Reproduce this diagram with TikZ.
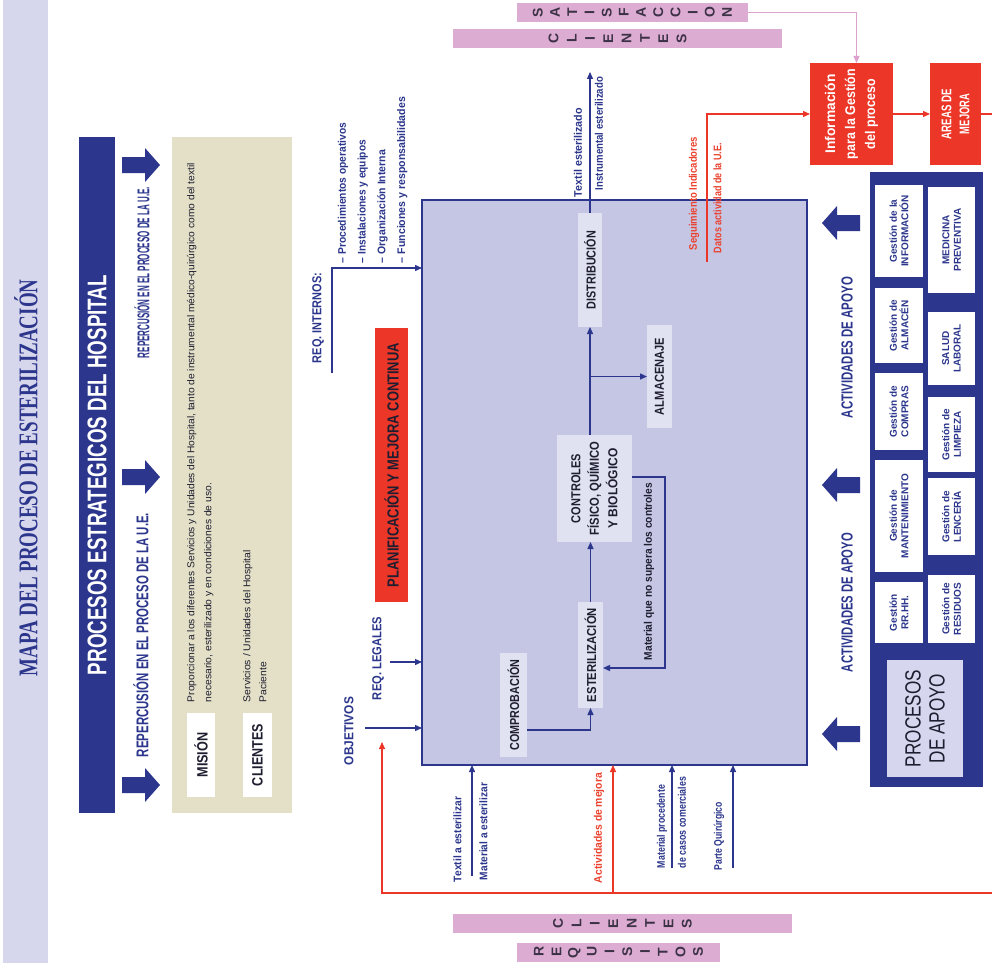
\documentclass[tikz,border=0pt]{standalone}
\usepackage{fontspec}
\usepackage{graphicx}
\setmainfont{Liberation Sans}
\newfontfamily\cnd{Liberation Sans}[FakeStretch=0.78]
\newfontfamily\serf{Liberation Serif}
\usetikzlibrary{arrows.meta}
\definecolor{navy}{RGB}{43,54,140}
\definecolor{bandc}{RGB}{214,214,236}
\definecolor{lav}{RGB}{196,198,228}
\definecolor{boxw}{RGB}{224,225,241}
\definecolor{beige}{RGB}{227,224,199}
\definecolor{redc}{RGB}{236,54,40}
\definecolor{redt}{RGB}{235,65,45}
\definecolor{pinkc}{RGB}{221,172,210}
\definecolor{pinkline}{RGB}{222,160,205}
\definecolor{darktxt}{RGB}{30,30,48}
\definecolor{lettc}{RGB}{60,50,70}
\definecolor{apoyofill}{RGB}{214,215,238}
\newcommand\fsz[1]{\fontsize{#1}{#1}\selectfont}
\newcommand\fitw[2]{\resizebox{#1pt}{\height}{#2}}
\newlength\vlw
\newcommand\vl[1]{\makebox[\vlw]{\rotatebox[origin=c]{90}{\bfseries\fontsize{14}{14}\selectfont #1}}}
\tikzset{
 vtxt/.style={rotate=90, inner sep=0pt, outer sep=0pt},
 navylbl/.style={vtxt, text=navy, font={\cnd\bfseries\fsz{12}}},
 redlbl/.style={vtxt, text=redt, font={\cnd\bfseries\fsz{12}}},
 procbox/.style={vtxt, fill=boxw, text=darktxt, font={\cnd\bfseries\fsz{13}}},
 supbox/.style={vtxt, fill=white, text=navy, align=center, font={\bfseries\fontsize{10}{11.5}\selectfont}},
 plainrect/.style={inner sep=0pt, outer sep=0pt},
 conn/.style={draw=navy, line width=1.3pt, -{Triangle[length=7pt,width=6pt]}},
 rconn/.style={draw=redc, line width=1.1pt, -{Triangle[length=7pt,width=6pt]}},
 pconn/.style={draw=pinkline, line width=1pt, -{Triangle[length=7pt,width=6pt]}},
 pinkbar/.style={fill=pinkc, inner sep=0pt, outer sep=0pt, text=lettc},
 barrowR/.pic={\fill[navy] (0,-8) -- (23,-8) -- (23,-17) -- (38,0) -- (23,17) -- (23,8) -- (0,8) -- cycle;},
 barrowL/.pic={\fill[navy] (0,-8) -- (-23,-8) -- (-23,-17) -- (-38,0) -- (-23,17) -- (-23,8) -- (0,8) -- cycle;}
}
\begin{document}
\begin{tikzpicture}[x=1pt,y=-1pt]
\useasboundingbox (0,0) rectangle (992,963);
\fill[white] (0,0) rectangle (992,963);

% title band
\node[plainrect, fill=bandc, minimum width=45pt, minimum height=963pt] (band) at (25.5,481.5) {};
\node[vtxt, text=navy, font={\serf\bfseries\fsz{27}}] (title) at (26,478) {\fitw{397}{MAPA DEL PROCESO DE ESTERILIZACIÓN}};

% strategic header
\node[vtxt, fill=navy, minimum width=676pt, minimum height=36pt, text=white, font={\cnd\bfseries\fsz{27}}] (hdr) at (97,475) {\fitw{400}{PROCESOS ESTRATEGICOS DEL HOSPITAL}};
\node[navylbl, font={\cnd\bfseries\fsz{17}}] (rep1) at (142,272.5) {\fitw{171}{REPERCUSIÓN EN EL PROCESO DE LA U.E.}};
\node[navylbl, font={\cnd\bfseries\fsz{17}}] (rep2) at (141,635) {\fitw{244}{REPERCUSIÓN EN EL PROCESO DE LA U.E.}};
\pic at (122,165) {barrowR};
\pic at (122,477) {barrowR};
\pic at (122,785) {barrowR};

% mission / clients
\node[plainrect, fill=beige, minimum width=120pt, minimum height=676pt] (beigebox) at (232,475) {};
\node[vtxt, fill=white, minimum width=84pt, minimum height=28pt, text=darktxt, font={\cnd\bfseries\fsz{15}}] (mision) at (201,755) {\fitw{45}{MISIÓN}};
\node[vtxt, fill=white, minimum width=84pt, minimum height=29pt, text=darktxt, font={\cnd\bfseries\fsz{15}}] (clientes) at (257.5,755) {\fitw{62}{CLIENTES}};
\node[vtxt, anchor=north west, align=left, text=darktxt, font={\cnd\fontsize{10}{17}\selectfont}] (misiontxt) at (187,702) {\fitw{539}{Proporcionar a los diferentes Servicios y Unidades del Hospital, tanto de instrumental médico-quirúrgico como del textil}\\\fitw{219}{necesario, esterilizado y en condiciones de uso.}};
\node[vtxt, anchor=north west, align=left, text=darktxt, font={\cnd\fontsize{10}{16}\selectfont}] (clientestxt) at (243,702) {\fitw{152}{Servicios / Unidades del Hospital}\\\fitw{40}{Paciente}};

% big process box
\node[plainrect, fill=lav, draw=navy, line width=1.5pt, minimum width=385pt, minimum height=565pt] (bigbox) at (614.5,482.5) {};

% requirements
\node[navylbl, font={\cnd\bfseries\fsz{13}}] (reqint) at (318,318) {\fitw{90}{REQ. INTERNOS:}};
\node[vtxt, anchor=north west, align=left, text=navy, font={\cnd\bfseries\fontsize{11}{19.7}\selectfont}] (reqlist) at (338,263) {\fitw{140}{– Procedimientos operativos}\\\fitw{123}{– Instalaciones y equipos}\\\fitw{113}{– Organización Interna}\\\fitw{166}{– Funciones y responsabilidades}};
\coordinate (reqintS) at (332,373);
\coordinate (reqintT) at (332,268);
\draw[conn] (reqintS) -- (reqintT) -- (reqintT -| bigbox.west);

\node[vtxt, fill=redc, minimum width=274pt, minimum height=33pt, text=darktxt, font={\cnd\bfseries\fsz{16}}] (plan) at (391.5,465) {\fitw{244}{PLANIFICACIÓN Y MEJORA CONTINUA}};

\node[navylbl, font={\cnd\bfseries\fsz{13}}] (objtxt) at (349,731) {\fitw{68}{OBJETIVOS}};
\coordinate (objS) at (365,728);
\draw[conn] (objS) -- (objS -| bigbox.west);
\node[navylbl, font={\cnd\bfseries\fsz{13}}] (legtxt) at (378,658.5) {\fitw{83}{REQ. LEGALES}};
\coordinate (legS) at (390,662);
\draw[conn] (legS) -- (legS -| bigbox.west);

% inner process
\node[procbox, minimum width=114pt, minimum height=24pt] (distrib) at (590,270) {\fitw{78}{DISTRIBUCIÓN}};
\node[procbox, minimum width=103pt, minimum height=25pt] (almacen) at (659.5,376.5) {\fitw{77}{ALMACENAJE}};
\node[procbox, minimum width=107pt, minimum height=75pt, align=center, font={\cnd\bfseries\fontsize{13}{18.5}\selectfont}] (controles) at (594.5,488.5) {\fitw{69}{CONTROLES}\\\fitw{93}{FÍSICO, QUÍMICO}\\\fitw{80}{Y BIOLÓGICO}};
\node[procbox, minimum width=106pt, minimum height=25pt] (esteril) at (590.5,655) {\fitw{94}{ESTERILIZACIÓN}};
\node[procbox, minimum width=104pt, minimum height=27pt] (comprob) at (513.5,705) {\fitw{91}{COMPROBACIÓN}};

\draw[conn] ([yshift=-25pt]comprob.south) -| (esteril.west);
\draw[conn] (esteril.east) -- (esteril.east |- controles.west);
\draw[conn] (distrib.west |- controles.east) -- (distrib.west);
\draw[conn] (distrib.west |- almacen.north) -- (almacen.north);
\draw[conn] ([yshift=11.5pt]controles.south) -- ++(33,0) |- ([yshift=-13pt]esteril.south);
\node[vtxt, text=darktxt, font={\cnd\bfseries\fsz{11}}] (fbtxt) at (649,571.5) {\fitw{177}{Material que no supera los controles}};

\coordinate (outtop) at (590,72);
\draw[conn] (distrib.east) -- (outtop);
\node[navylbl, font={\cnd\bfseries\fsz{11}}] (outtxt1) at (578,152.5) {\fitw{89}{Textil esterilizado}};
\node[navylbl, font={\cnd\bfseries\fsz{11}}] (outtxt2) at (599,133.5) {\fitw{113}{Instrumental esterilizado}};

% bottom inputs
\coordinate (in1) at (472,876);
\draw[conn] (in1) -- (in1 |- bigbox.south);
\node[navylbl, font={\cnd\bfseries\fsz{11}}] (in1a) at (457.5,839.5) {\fitw{85}{Textil a esterilizar}};
\node[navylbl, font={\cnd\bfseries\fsz{11}}] (in1b) at (483.5,831.5) {\fitw{97}{Material a esterilizar}};
\coordinate (in2) at (672,868);
\draw[conn] (in2) -- (in2 |- bigbox.south);
\node[navylbl, font={\cnd\bfseries\fsz{11}}] (in2a) at (662,826.5) {\fitw{83}{Material procedente}};
\node[navylbl, font={\cnd\bfseries\fsz{11}}] (in2b) at (682,822.5) {\fitw{91}{de casos comerciales}};
\coordinate (in3) at (733,868);
\draw[conn] (in3) -- (in3 |- bigbox.south);
\node[navylbl, font={\cnd\bfseries\fsz{11}}] (in3a) at (719,836) {\fitw{68}{Parte Quirúrgico}};

% management boxes
\node[vtxt, fill=redc, minimum width=102pt, minimum height=83pt, text=white, align=center, font={\cnd\bfseries\fontsize{14}{20}\selectfont}] (info) at (851.5,114) {\fitw{79}{Información}\\\fitw{90}{para la Gestión}\\\fitw{70}{del proceso}};
\node[vtxt, fill=redc, minimum width=102pt, minimum height=51pt, text=white, align=center, font={\cnd\bfseries\fontsize{14}{18}\selectfont}] (areas) at (955.5,114) {\fitw{50}{AREAS DE}\\\fitw{40}{MEJORA}};
\draw[rconn] (info.south) -- (areas.north);

\coordinate (segS) at (707,262);
\draw[rconn] (segS) |- (info.north);
\node[redlbl, font={\cnd\bfseries\fsz{11}}] (seg1) at (694,193.5) {\fitw{113}{Seguimiento Indicadores}};
\node[redlbl, font={\cnd\bfseries\fsz{11}}] (seg2) at (717.5,198) {\fitw{110}{Datos actividad de la U.E.}};

% red feedback loop
\coordinate (redx) at (382,893);
\coordinate (redtip) at (382,742);
\draw[rconn] (areas.south) -- ++(25,0) |- (redx) -- (redtip);
\coordinate (redin) at (613,893);
\draw[rconn] (redin) -- (redin |- bigbox.south);
\node[redlbl, font={\cnd\bfseries\fsz{11}}] (mejtxt) at (599,828) {\fitw{110}{Actividades de mejora}};

% pink bars
\node[pinkbar, minimum width=231pt, minimum height=19pt] (satis) at (632.5,12.5) {\setlength\vlw{17.2pt}\vl{S}\vl{A}\vl{T}\vl{I}\vl{S}\vl{F}\vl{A}\vl{C}\vl{C}\vl{I}\vl{O}\vl{N}};
\node[pinkbar, minimum width=329pt, minimum height=19pt] (clitop) at (617.5,38.5) {\setlength\vlw{18.3pt}\vl{C}\vl{L}\vl{I}\vl{E}\vl{N}\vl{T}\vl{E}\vl{S}};
\node[pinkbar, minimum width=339pt, minimum height=19pt] (clibot) at (622.5,923.5) {\setlength\vlw{18.4pt}\vl{C}\vl{L}\vl{I}\vl{E}\vl{N}\vl{T}\vl{E}\vl{S}};
\node[pinkbar, minimum width=203pt, minimum height=19pt] (requis) at (618.5,952.5) {\setlength\vlw{17.7pt}\vl{R}\vl{E}\vl{Q}\vl{U}\vl{I}\vl{S}\vl{I}\vl{T}\vl{O}\vl{S}};
\draw[pconn] (satis.east) -| ([xshift=5pt]info.east);

% support processes
\node[plainrect, fill=navy, minimum width=113pt, minimum height=615pt] (apoyoframe) at (926.5,479.5) {};
\node[supbox, minimum width=92pt, minimum height=48pt] (sinfo) at (899,231) {Gestión de la\\INFORMACIÓN};
\node[supbox, minimum width=75pt, minimum height=48pt] (salm) at (899,325.5) {Gestión de\\ALMACÉN};
\node[supbox, minimum width=77pt, minimum height=48pt] (scomp) at (899,411.5) {Gestión de\\COMPRAS};
\node[supbox, minimum width=112pt, minimum height=48pt] (smant) at (899,516) {Gestión de\\MANTENIMIENTO};
\node[supbox, minimum width=61pt, minimum height=48pt] (srrhh) at (899,612.5) {Gestión\\RR.HH.};
\node[supbox, minimum width=106pt, minimum height=47pt] (smed) at (951.5,240) {MEDICINA\\PREVENTIVA};
\node[supbox, minimum width=73pt, minimum height=47pt] (ssal) at (951.5,348.5) {SALUD\\LABORAL};
\node[supbox, minimum width=75pt, minimum height=47pt] (slim) at (951.5,434.5) {Gestión de\\LIMPIEZA};
\node[supbox, minimum width=77pt, minimum height=47pt] (slen) at (951.5,516.5) {Gestión de\\LENCERÍA};
\node[supbox, minimum width=68pt, minimum height=47pt] (sres) at (951.5,609) {Gestión de\\RESIDUOS};
\node[vtxt, fill=apoyofill, minimum width=117pt, minimum height=76pt, text=darktxt, align=center, font={\cnd\fontsize{22}{24}\selectfont}] (procapoyo) at (925,718.5) {PROCESOS\\DE APOYO};

\node[navylbl, font={\cnd\bfseries\fsz{16}}] (act1) at (847,347.5) {\fitw{141}{ACTIVIDADES DE APOYO}};
\node[navylbl, font={\cnd\bfseries\fsz{16}}] (act2) at (847,602.5) {\fitw{139}{ACTIVIDADES DE APOYO}};
\pic at (860,223) {barrowL};
\pic at (860,485) {barrowL};
\pic at (860,734) {barrowL};
\end{tikzpicture}
\end{document}
